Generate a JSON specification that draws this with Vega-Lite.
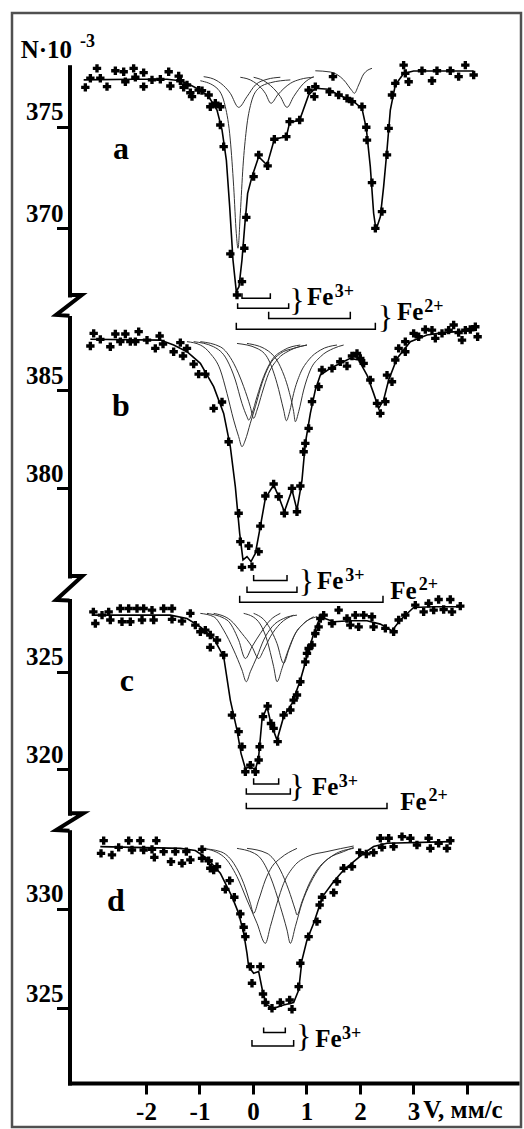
{
"$schema":"https://vega.github.io/schema/vega-lite/v6.json",
"width":509,"height":1114,
"autosize":{"type":"none"},
"padding":{"left":12,"top":13,"right":3,"bottom":2},
"background":"white",
"config":{"view":{"stroke":"#505050","strokeWidth":2.5},"axis":{"grid":false}},
"datasets":{
"pa":[{"V":-3.134,"N":376.93},{"V":-3.04,"N":377.38},{"V":-2.916,"N":377.87},{"V":-2.854,"N":377.38},{"V":-2.729,"N":376.97},{"V":-2.573,"N":377.75},{"V":-2.417,"N":377.7},{"V":-2.386,"N":377.21},{"V":-2.231,"N":377.87},{"V":-2.199,"N":377.43},{"V":-2.044,"N":377.66},{"V":-2.044,"N":376.97},{"V":-1.888,"N":377.3},{"V":-1.732,"N":377.33},{"V":-1.576,"N":377.7},{"V":-1.545,"N":377.0},{"V":-1.389,"N":377.49},{"V":-1.358,"N":377.26},{"V":-1.296,"N":376.93},{"V":-1.234,"N":377.05},{"V":-1.171,"N":376.67},{"V":-1.14,"N":376.48},{"V":-1.016,"N":376.8},{"V":-0.953,"N":376.77},{"V":-0.829,"N":376.56},{"V":-0.798,"N":375.98},{"V":-0.704,"N":376.15},{"V":-0.611,"N":375.98},{"V":-0.611,"N":375.08},{"V":-0.548,"N":374.02},{"V":-0.424,"N":368.74},{"V":-0.299,"N":366.72},{"V":-0.206,"N":367.38},{"V":-0.162,"N":369.02},{"V":-0.125,"N":370.54},{"V":0.012,"N":372.54},{"V":0.106,"N":373.61},{"V":0.274,"N":373.07},{"V":0.399,"N":374.38},{"V":0.623,"N":374.51},{"V":0.685,"N":375.25},{"V":0.872,"N":375.33},{"V":1.04,"N":376.8},{"V":1.146,"N":376.48},{"V":1.165,"N":376.97},{"V":1.433,"N":376.72},{"V":1.495,"N":377.46},{"V":1.601,"N":376.56},{"V":1.757,"N":376.39},{"V":1.85,"N":376.23},{"V":2.037,"N":375.98},{"V":2.118,"N":374.97},{"V":2.131,"N":374.34},{"V":2.224,"N":372.25},{"V":2.287,"N":370.0},{"V":2.411,"N":370.82},{"V":2.505,"N":373.61},{"V":2.536,"N":374.92},{"V":2.598,"N":376.56},{"V":2.66,"N":377.13},{"V":2.816,"N":378.03},{"V":2.847,"N":377.62},{"V":2.91,"N":377.21},{"V":3.159,"N":377.75},{"V":3.346,"N":377.26},{"V":3.439,"N":377.75},{"V":3.688,"N":377.75},{"V":3.844,"N":377.46},{"V":3.969,"N":378.03},{"V":4.125,"N":377.54}],
"fa":[{"V":-3.165,"N":377.3},{"V":-2.231,"N":377.33},{"V":-1.607,"N":377.33},{"V":-1.358,"N":377.26},{"V":-1.171,"N":377.05},{"V":-0.984,"N":376.8},{"V":-0.829,"N":376.48},{"V":-0.673,"N":375.82},{"V":-0.579,"N":374.84},{"V":-0.498,"N":373.36},{"V":-0.436,"N":371.07},{"V":-0.374,"N":368.44},{"V":-0.312,"N":366.89},{"V":-0.262,"N":367.13},{"V":-0.206,"N":368.44},{"V":-0.156,"N":370.08},{"V":-0.1,"N":371.72},{"V":-0.019,"N":372.54},{"V":0.106,"N":373.52},{"V":0.262,"N":373.11},{"V":0.399,"N":374.38},{"V":0.623,"N":374.51},{"V":0.685,"N":375.2},{"V":0.872,"N":375.33},{"V":1.04,"N":376.56},{"V":1.165,"N":376.89},{"V":1.414,"N":376.84},{"V":1.601,"N":376.56},{"V":1.757,"N":376.39},{"V":1.882,"N":376.23},{"V":2.037,"N":375.9},{"V":2.118,"N":374.92},{"V":2.193,"N":373.03},{"V":2.255,"N":370.74},{"V":2.299,"N":369.92},{"V":2.38,"N":370.57},{"V":2.442,"N":372.05},{"V":2.505,"N":373.85},{"V":2.567,"N":375.82},{"V":2.66,"N":377.05},{"V":2.816,"N":377.62},{"V":3.003,"N":377.74},{"V":4.125,"N":377.74}],
"ca":[{"c":1,"V":-0.984,"N":377.26},{"c":1,"V":-0.673,"N":376.89},{"c":1,"V":-0.517,"N":375.98},{"c":1,"V":-0.424,"N":374.34},{"c":1,"V":-0.361,"N":372.05},{"c":1,"V":-0.312,"N":369.75},{"c":1,"V":-0.28,"N":369.02},{"c":1,"V":-0.237,"N":370.74},{"c":1,"V":-0.187,"N":373.03},{"c":1,"V":-0.125,"N":374.84},{"c":1,"V":-0.037,"N":376.15},{"c":1,"V":0.106,"N":376.89},{"c":1,"V":0.324,"N":377.16},{"c":1,"V":0.698,"N":377.3},
{"c":2,"V":-0.922,"N":377.46},{"c":2,"V":-0.673,"N":377.26},{"c":2,"V":-0.424,"N":376.64},{"c":2,"V":-0.268,"N":375.95},{"c":2,"V":-0.112,"N":376.48},{"c":2,"V":0.044,"N":377.05},{"c":2,"V":0.262,"N":377.33},{"c":2,"V":0.511,"N":377.43},
{"c":3,"V":-0.237,"N":377.43},{"c":3,"V":0.012,"N":377.21},{"c":3,"V":0.231,"N":376.64},{"c":3,"V":0.336,"N":376.15},{"c":3,"V":0.461,"N":376.56},{"c":3,"V":0.698,"N":377.13},{"c":3,"V":0.885,"N":377.33},{"c":3,"V":1.134,"N":377.43},
{"c":4,"V":0.012,"N":377.43},{"c":4,"V":0.262,"N":377.16},{"c":4,"V":0.511,"N":376.48},{"c":4,"V":0.636,"N":375.95},{"c":4,"V":0.76,"N":376.48},{"c":4,"V":0.947,"N":377.13},{"c":4,"V":1.134,"N":377.46},
{"c":5,"V":1.165,"N":377.75},{"c":5,"V":1.445,"N":377.69},{"c":5,"V":1.695,"N":377.3},{"c":5,"V":1.85,"N":376.77},{"c":5,"V":1.894,"N":376.64},{"c":5,"V":1.975,"N":377.05},{"c":5,"V":2.069,"N":377.59},{"c":5,"V":2.224,"N":377.87}],
"ka":[{"b":1,"i":0,"V":-0.206,"N":366.8},{"b":1,"i":1,"V":-0.206,"N":366.56},{"b":1,"i":2,"V":0.324,"N":366.56},{"b":1,"i":3,"V":0.324,"N":366.8},
{"b":2,"i":0,"V":-0.287,"N":366.31},{"b":2,"i":1,"V":-0.287,"N":366.07},{"b":2,"i":2,"V":0.667,"N":366.07},{"b":2,"i":3,"V":0.667,"N":366.31},
{"b":3,"i":0,"V":0.293,"N":365.9},{"b":3,"i":1,"V":0.293,"N":365.57},{"b":3,"i":2,"V":1.819,"N":365.57},{"b":3,"i":3,"V":1.819,"N":365.9},
{"b":4,"i":0,"V":-0.312,"N":365.36},{"b":4,"i":1,"V":-0.312,"N":365.03},{"b":4,"i":2,"V":2.287,"N":365.03},{"b":4,"i":3,"V":2.287,"N":365.36}],
"za":[{"i":0,"V":-3.43,"N":366.72},{"i":1,"V":-3.2,"N":366.72},{"i":2,"V":-3.68,"N":365.74},{"i":3,"V":-3.43,"N":365.7}],
"ta":[{"k":"L","t":"a","V":-2.617,"N":373.39},{"k":"B","t":"}","V":0.822,"N":366.44},{"k":"F","t":"Fe","V":1.009,"N":366.23},{"k":"S","t":"3+","V":1.526,"N":366.64},{"k":"B","t":"}","V":2.474,"N":365.57},{"k":"F","t":"Fe","V":2.692,"N":365.49},{"k":"S","t":"2+","V":3.202,"N":365.9},{"k":"F","t":"N·10","V":-4.342,"N":378.36},{"k":"S","t":"-3","V":-3.234,"N":378.94}],
"pb":[{"V":-2.978,"N":387.88},{"V":-3.04,"N":387.24},{"V":-2.854,"N":387.58},{"V":-2.667,"N":387.2},{"V":-2.573,"N":387.85},{"V":-2.48,"N":387.46},{"V":-2.386,"N":387.85},{"V":-2.293,"N":387.46},{"V":-2.199,"N":387.46},{"V":-2.137,"N":387.97},{"V":-1.981,"N":387.54},{"V":-1.826,"N":387.12},{"V":-1.745,"N":387.75},{"V":-1.682,"N":387.34},{"V":-1.483,"N":386.95},{"V":-1.358,"N":387.41},{"V":-1.308,"N":386.73},{"V":-1.234,"N":387.12},{"V":-1.109,"N":386.32},{"V":-1.016,"N":385.81},{"V":-0.891,"N":385.81},{"V":-0.735,"N":384.07},{"V":-0.579,"N":384.39},{"V":-0.455,"N":382.37},{"V":-0.268,"N":378.73},{"V":-0.237,"N":377.29},{"V":-0.206,"N":375.98},{"V":-0.081,"N":377.07},{"V":-0.019,"N":376.02},{"V":0.106,"N":376.78},{"V":0.137,"N":378.08},{"V":0.231,"N":379.61},{"V":0.386,"N":380.22},{"V":0.48,"N":379.58},{"V":0.586,"N":378.73},{"V":0.729,"N":380.0},{"V":0.822,"N":378.81},{"V":0.885,"N":380.12},{"V":0.947,"N":381.86},{"V":0.978,"N":382.29},{"V":1.04,"N":383.05},{"V":1.103,"N":384.41},{"V":1.227,"N":385.17},{"V":1.29,"N":386.02},{"V":1.477,"N":386.1},{"V":1.632,"N":386.44},{"V":1.757,"N":386.22},{"V":1.85,"N":386.73},{"V":1.944,"N":386.86},{"V":2.006,"N":386.61},{"V":2.069,"N":386.36},{"V":2.193,"N":385.51},{"V":2.318,"N":384.32},{"V":2.38,"N":383.81},{"V":2.474,"N":384.41},{"V":2.505,"N":385.76},{"V":2.598,"N":385.42},{"V":2.66,"N":386.53},{"V":2.723,"N":387.12},{"V":2.847,"N":386.95},{"V":2.847,"N":387.46},{"V":3.003,"N":387.88},{"V":3.097,"N":387.71},{"V":3.221,"N":388.08},{"V":3.346,"N":388.05},{"V":3.408,"N":387.63},{"V":3.533,"N":387.88},{"V":3.657,"N":388.05},{"V":3.751,"N":388.31},{"V":3.844,"N":387.92},{"V":3.907,"N":387.54},{"V":3.969,"N":388.05},{"V":4.062,"N":388.08},{"V":4.156,"N":388.22},{"V":4.199,"N":387.71}],
"fb":[{"V":-3.04,"N":387.58},{"V":-1.732,"N":387.54},{"V":-1.483,"N":387.29},{"V":-1.234,"N":386.95},{"V":-0.984,"N":386.36},{"V":-0.735,"N":385.17},{"V":-0.548,"N":383.81},{"V":-0.424,"N":382.12},{"V":-0.33,"N":380.08},{"V":-0.249,"N":377.71},{"V":-0.187,"N":376.36},{"V":-0.112,"N":376.53},{"V":-0.037,"N":376.27},{"V":0.044,"N":376.69},{"V":0.137,"N":378.05},{"V":0.231,"N":379.49},{"V":0.386,"N":380.17},{"V":0.48,"N":379.58},{"V":0.586,"N":378.81},{"V":0.729,"N":379.92},{"V":0.822,"N":378.9},{"V":0.916,"N":380.42},{"V":0.978,"N":382.29},{"V":1.072,"N":383.81},{"V":1.165,"N":385.0},{"V":1.259,"N":385.76},{"V":1.445,"N":386.1},{"V":1.632,"N":386.36},{"V":1.819,"N":386.61},{"V":1.975,"N":386.53},{"V":2.131,"N":385.76},{"V":2.255,"N":384.83},{"V":2.349,"N":384.07},{"V":2.442,"N":384.49},{"V":2.536,"N":385.51},{"V":2.692,"N":386.61},{"V":2.941,"N":387.46},{"V":3.252,"N":387.8},{"V":3.564,"N":387.92},{"V":4.187,"N":388.05}],
"cb":[{"c":1,"V":-1.234,"N":387.46},{"c":1,"V":-0.984,"N":387.29},{"c":1,"V":-0.798,"N":386.86},{"c":1,"V":-0.611,"N":386.02},{"c":1,"V":-0.486,"N":384.83},{"c":1,"V":-0.361,"N":383.47},{"c":1,"V":-0.268,"N":382.63},{"c":1,"V":-0.206,"N":382.12},{"c":1,"V":-0.143,"N":382.46},{"c":1,"V":-0.05,"N":383.31},{"c":1,"V":0.044,"N":384.15},{"c":1,"V":0.168,"N":385.34},{"c":1,"V":0.293,"N":386.19},{"c":1,"V":0.511,"N":386.86},{"c":1,"V":0.76,"N":387.12},{"c":1,"V":1.009,"N":387.29},
{"c":2,"V":-1.109,"N":387.46},{"c":2,"V":-0.735,"N":387.2},{"c":2,"V":-0.486,"N":386.53},{"c":2,"V":-0.33,"N":385.51},{"c":2,"V":-0.206,"N":384.32},{"c":2,"V":-0.112,"N":383.64},{"c":2,"V":-0.081,"N":383.47},{"c":2,"V":-0.019,"N":383.81},{"c":2,"V":0.075,"N":384.66},{"c":2,"V":0.199,"N":385.68},{"c":2,"V":0.355,"N":386.53},{"c":2,"V":0.573,"N":387.03},{"c":2,"V":0.885,"N":387.29},
{"c":3,"V":-0.984,"N":387.46},{"c":3,"V":-0.611,"N":387.2},{"c":3,"V":-0.361,"N":386.36},{"c":3,"V":-0.174,"N":385.17},{"c":3,"V":-0.05,"N":384.15},{"c":3,"V":0.012,"N":383.56},{"c":3,"V":0.075,"N":383.98},{"c":3,"V":0.168,"N":384.83},{"c":3,"V":0.293,"N":385.85},{"c":3,"V":0.449,"N":386.53},{"c":3,"V":0.698,"N":387.03},{"c":3,"V":1.009,"N":387.29},
{"c":4,"V":-0.299,"N":387.37},{"c":4,"V":0.075,"N":387.12},{"c":4,"V":0.293,"N":386.53},{"c":4,"V":0.449,"N":385.34},{"c":4,"V":0.573,"N":383.98},{"c":4,"V":0.623,"N":383.44},{"c":4,"V":0.685,"N":383.9},{"c":4,"V":0.76,"N":384.83},{"c":4,"V":0.885,"N":385.85},{"c":4,"V":1.04,"N":386.53},{"c":4,"V":1.259,"N":387.03},{"c":4,"V":1.57,"N":387.29},
{"c":5,"V":-0.112,"N":387.37},{"c":5,"V":0.262,"N":387.03},{"c":5,"V":0.511,"N":386.19},{"c":5,"V":0.667,"N":385.0},{"c":5,"V":0.76,"N":383.9},{"c":5,"V":0.791,"N":383.39},{"c":5,"V":0.854,"N":383.9},{"c":5,"V":0.947,"N":385.0},{"c":5,"V":1.072,"N":386.02},{"c":5,"V":1.259,"N":386.69},{"c":5,"V":1.508,"N":387.12},{"c":5,"V":1.695,"N":387.29}],
"kb":[{"b":1,"i":0,"V":0.012,"N":375.59},{"b":1,"i":1,"V":0.012,"N":375.31},{"b":1,"i":2,"V":0.636,"N":375.31},{"b":1,"i":3,"V":0.636,"N":375.59},
{"b":2,"i":0,"V":-0.112,"N":375.0},{"b":2,"i":1,"V":-0.112,"N":374.71},{"b":2,"i":2,"V":0.822,"N":374.71},{"b":2,"i":3,"V":0.822,"N":375.0},
{"b":3,"i":0,"V":-0.249,"N":374.53},{"b":3,"i":1,"V":-0.249,"N":374.2},{"b":3,"i":2,"V":2.43,"N":374.2},{"b":3,"i":3,"V":2.43,"N":374.53}],
"zb":[{"i":0,"V":-3.43,"N":375.54},{"i":1,"V":-3.19,"N":375.54},{"i":2,"V":-3.68,"N":374.32},{"i":3,"V":-3.43,"N":374.3}],
"tb":[{"k":"L","t":"b","V":-2.636,"N":383.68},{"k":"B","t":"}","V":0.997,"N":375.22},{"k":"F","t":"Fe","V":1.196,"N":374.86},{"k":"S","t":"3+","V":1.726,"N":375.31},{"k":"F","t":"Fe","V":2.567,"N":374.36},{"k":"S","t":"2+","V":3.097,"N":374.83}],
"pc":[{"V":-2.984,"N":328.07},{"V":-2.947,"N":327.47},{"V":-2.822,"N":327.9},{"V":-2.698,"N":328.07},{"V":-2.667,"N":327.65},{"V":-2.48,"N":328.24},{"V":-2.449,"N":327.56},{"V":-2.324,"N":328.24},{"V":-2.293,"N":327.56},{"V":-2.168,"N":328.24},{"V":-2.075,"N":327.65},{"V":-2.044,"N":328.24},{"V":-1.888,"N":328.16},{"V":-1.857,"N":327.65},{"V":-1.67,"N":328.24},{"V":-1.514,"N":328.24},{"V":-1.514,"N":327.68},{"V":-1.327,"N":327.59},{"V":-1.171,"N":327.99},{"V":-1.078,"N":327.39},{"V":-0.984,"N":327.05},{"V":-0.891,"N":327.13},{"V":-0.798,"N":326.88},{"V":-0.673,"N":326.62},{"V":-0.798,"N":326.25},{"V":-0.548,"N":325.85},{"V":-0.393,"N":322.78},{"V":-0.268,"N":321.93},{"V":-0.206,"N":321.16},{"V":-0.143,"N":319.88},{"V":-0.05,"N":320.22},{"V":0.044,"N":319.88},{"V":0.106,"N":320.48},{"V":0.125,"N":321.16},{"V":0.187,"N":322.7},{"V":0.274,"N":323.24},{"V":0.336,"N":322.35},{"V":0.386,"N":322.1},{"V":0.461,"N":321.42},{"V":0.573,"N":322.78},{"V":0.698,"N":323.04},{"V":0.76,"N":323.55},{"V":0.822,"N":323.81},{"V":0.885,"N":324.49},{"V":0.978,"N":325.51},{"V":1.009,"N":325.94},{"V":1.04,"N":326.19},{"V":1.103,"N":326.37},{"V":1.165,"N":326.96},{"V":1.227,"N":327.3},{"V":1.259,"N":327.73},{"V":1.321,"N":327.9},{"V":1.477,"N":327.47},{"V":1.601,"N":328.16},{"V":1.757,"N":327.73},{"V":1.819,"N":327.39},{"V":1.913,"N":327.9},{"V":1.975,"N":327.3},{"V":2.069,"N":327.9},{"V":2.224,"N":327.82},{"V":2.255,"N":327.3},{"V":2.474,"N":327.22},{"V":2.629,"N":327.05},{"V":2.723,"N":327.65},{"V":2.847,"N":327.9},{"V":3.034,"N":328.41},{"V":3.19,"N":328.07},{"V":3.283,"N":328.5},{"V":3.377,"N":328.16},{"V":3.47,"N":328.7},{"V":3.564,"N":328.19},{"V":3.688,"N":328.7},{"V":3.72,"N":328.07},{"V":3.875,"N":328.36}],
"fc":[{"V":-3.009,"N":327.9},{"V":-1.545,"N":327.9},{"V":-1.234,"N":327.73},{"V":-0.984,"N":327.3},{"V":-0.735,"N":326.71},{"V":-0.548,"N":325.77},{"V":-0.424,"N":323.55},{"V":-0.299,"N":322.01},{"V":-0.224,"N":320.82},{"V":-0.143,"N":320.05},{"V":-0.05,"N":320.14},{"V":0.044,"N":319.97},{"V":0.106,"N":320.65},{"V":0.168,"N":322.53},{"V":0.262,"N":323.21},{"V":0.336,"N":322.35},{"V":0.449,"N":321.5},{"V":0.573,"N":322.7},{"V":0.729,"N":323.38},{"V":0.885,"N":324.57},{"V":1.009,"N":325.77},{"V":1.134,"N":326.96},{"V":1.259,"N":327.82},{"V":1.508,"N":327.56},{"V":1.819,"N":327.61},{"V":2.131,"N":327.61},{"V":2.38,"N":327.44},{"V":2.598,"N":327.1},{"V":2.754,"N":327.65},{"V":3.003,"N":328.29},{"V":3.377,"N":328.33},{"V":3.875,"N":328.33}],
"cc":[{"c":1,"V":-0.984,"N":327.99},{"c":1,"V":-0.735,"N":327.82},{"c":1,"V":-0.548,"N":327.13},{"c":1,"V":-0.361,"N":326.11},{"c":1,"V":-0.206,"N":325.09},{"c":1,"V":-0.125,"N":324.49},{"c":1,"V":-0.05,"N":325.0},{"c":1,"V":0.075,"N":325.77},{"c":1,"V":0.199,"N":326.62},{"c":1,"V":0.355,"N":327.3},{"c":1,"V":0.573,"N":327.73},{"c":1,"V":0.822,"N":327.9},
{"c":2,"V":-0.174,"N":327.99},{"c":2,"V":0.075,"N":327.65},{"c":2,"V":0.262,"N":326.62},{"c":2,"V":0.386,"N":325.26},{"c":2,"V":0.449,"N":324.49},{"c":2,"V":0.542,"N":325.17},{"c":2,"V":0.636,"N":325.94},{"c":2,"V":0.76,"N":326.79},{"c":2,"V":0.947,"N":327.47},{"c":2,"V":1.196,"N":327.82},
{"c":3,"V":-0.735,"N":327.99},{"c":3,"V":-0.424,"N":327.65},{"c":3,"V":-0.206,"N":326.96},{"c":3,"V":-0.019,"N":326.28},{"c":3,"V":0.106,"N":325.68},{"c":3,"V":0.199,"N":326.11},{"c":3,"V":0.324,"N":326.79},{"c":3,"V":0.511,"N":327.47},{"c":3,"V":0.76,"N":327.9},
{"c":4,"V":-0.86,"N":327.99},{"c":4,"V":-0.486,"N":327.65},{"c":4,"V":-0.268,"N":326.62},{"c":4,"V":-0.143,"N":325.68},{"c":4,"V":-0.019,"N":326.28},{"c":4,"V":0.137,"N":326.96},{"c":4,"V":0.324,"N":327.65},{"c":4,"V":0.511,"N":327.99},
{"c":5,"V":0.012,"N":327.99},{"c":5,"V":0.262,"N":327.47},{"c":5,"V":0.449,"N":326.45},{"c":5,"V":0.573,"N":325.43},{"c":5,"V":0.667,"N":326.11},{"c":5,"V":0.791,"N":326.96},{"c":5,"V":0.947,"N":327.47},{"c":5,"V":1.134,"N":327.82}],
"kc":[{"b":1,"i":0,"V":0.012,"N":319.54},{"b":1,"i":1,"V":0.012,"N":319.25},{"b":1,"i":2,"V":0.48,"N":319.25},{"b":1,"i":3,"V":0.48,"N":319.54},
{"b":2,"i":0,"V":-0.125,"N":319.03},{"b":2,"i":1,"V":-0.125,"N":318.74},{"b":2,"i":2,"V":0.698,"N":318.74},{"b":2,"i":3,"V":0.698,"N":319.03},
{"b":3,"i":0,"V":-0.125,"N":318.29},{"b":3,"i":1,"V":-0.125,"N":318.0},{"b":3,"i":2,"V":2.505,"N":318.0},{"b":3,"i":3,"V":2.505,"N":318.29}],
"zc":[{"i":0,"V":-3.43,"N":317.75},{"i":1,"V":-3.17,"N":317.75},{"i":2,"V":-3.68,"N":316.89},{"i":3,"V":-3.43,"N":316.85}],
"tc":[{"k":"L","t":"c","V":-2.492,"N":324.01},{"k":"B","t":"}","V":0.822,"N":319.11},{"k":"F","t":"Fe","V":1.103,"N":318.69},{"k":"S","t":"3+","V":1.601,"N":319.11},{"k":"F","t":"Fe","V":2.754,"N":317.92},{"k":"S","t":"2+","V":3.283,"N":318.4}],
"pd":[{"V":-2.791,"N":333.44},{"V":-2.841,"N":332.8},{"V":-2.636,"N":332.72},{"V":-2.511,"N":333.1},{"V":-2.324,"N":333.44},{"V":-2.262,"N":332.97},{"V":-2.106,"N":333.44},{"V":-2.044,"N":332.97},{"V":-1.888,"N":333.0},{"V":-1.807,"N":333.44},{"V":-1.844,"N":332.6},{"V":-1.67,"N":332.89},{"V":-1.533,"N":332.38},{"V":-1.452,"N":332.89},{"V":-1.327,"N":332.3},{"V":-1.246,"N":332.89},{"V":-1.171,"N":332.47},{"V":-0.953,"N":333.0},{"V":-0.953,"N":332.55},{"V":-0.829,"N":332.43},{"V":-0.798,"N":332.05},{"V":-0.735,"N":331.96},{"V":-0.673,"N":332.13},{"V":-0.436,"N":331.43},{"V":-0.517,"N":330.99},{"V":-0.349,"N":330.59},{"V":-0.237,"N":329.75},{"V":-0.174,"N":329.08},{"V":-0.143,"N":328.61},{"V":-0.05,"N":327.1},{"V":0.137,"N":327.1},{"V":-0.019,"N":326.26},{"V":0.187,"N":325.72},{"V":0.231,"N":325.29},{"V":0.355,"N":325.0},{"V":0.511,"N":325.29},{"V":0.685,"N":325.42},{"V":0.729,"N":324.95},{"V":0.854,"N":326.09},{"V":0.885,"N":327.27},{"V":1.04,"N":328.61},{"V":1.196,"N":329.36},{"V":1.246,"N":330.2},{"V":1.29,"N":330.59},{"V":1.508,"N":330.82},{"V":1.57,"N":331.38},{"V":1.695,"N":332.05},{"V":1.85,"N":332.13},{"V":1.994,"N":332.84},{"V":2.118,"N":332.77},{"V":2.255,"N":332.84},{"V":2.38,"N":333.56},{"V":2.411,"N":333.1},{"V":2.536,"N":333.56},{"V":2.629,"N":333.14},{"V":2.785,"N":333.64},{"V":2.941,"N":333.56},{"V":3.065,"N":333.22},{"V":3.283,"N":333.56},{"V":3.315,"N":333.05},{"V":3.47,"N":333.31},{"V":3.626,"N":333.05},{"V":3.688,"N":333.44}],
"fd":[{"V":-2.854,"N":333.14},{"V":-1.358,"N":333.05},{"V":-1.078,"N":332.94},{"V":-0.86,"N":332.55},{"V":-0.611,"N":331.8},{"V":-0.393,"N":330.62},{"V":-0.268,"N":329.78},{"V":-0.174,"N":328.78},{"V":-0.112,"N":327.77},{"V":-0.081,"N":327.1},{"V":0.012,"N":326.76},{"V":0.106,"N":326.85},{"V":0.187,"N":325.76},{"V":0.262,"N":325.17},{"V":0.386,"N":325.0},{"V":0.573,"N":325.17},{"V":0.76,"N":325.29},{"V":0.854,"N":325.92},{"V":0.916,"N":327.43},{"V":1.009,"N":328.44},{"V":1.134,"N":329.28},{"V":1.227,"N":330.03},{"V":1.321,"N":330.7},{"V":1.508,"N":331.38},{"V":1.695,"N":331.96},{"V":1.882,"N":332.38},{"V":2.069,"N":332.8},{"V":2.255,"N":333.14},{"V":2.505,"N":333.31},{"V":3.688,"N":333.39}],
"cd":[{"c":1,"V":-0.922,"N":333.05},{"c":1,"V":-0.548,"N":332.63},{"c":1,"V":-0.299,"N":331.63},{"c":1,"V":-0.112,"N":330.45},{"c":1,"V":0.075,"N":329.28},{"c":1,"V":0.231,"N":328.27},{"c":1,"V":0.324,"N":329.11},{"c":1,"V":0.449,"N":330.29},{"c":1,"V":0.573,"N":331.29},{"c":1,"V":0.76,"N":332.13},{"c":1,"V":1.009,"N":332.63},{"c":1,"V":1.383,"N":332.89},{"c":1,"V":1.882,"N":333.17},
{"c":2,"V":-0.984,"N":333.05},{"c":2,"V":-0.611,"N":332.89},{"c":2,"V":-0.361,"N":332.3},{"c":2,"V":-0.174,"N":331.29},{"c":2,"V":-0.05,"N":330.29},{"c":2,"V":0.012,"N":329.78},{"c":2,"V":0.106,"N":330.45},{"c":2,"V":0.231,"N":331.46},{"c":2,"V":0.355,"N":332.13},{"c":2,"V":0.511,"N":332.55},{"c":2,"V":0.822,"N":333.05},
{"c":3,"V":-0.299,"N":333.05},{"c":3,"V":0.075,"N":332.72},{"c":3,"V":0.324,"N":331.63},{"c":3,"V":0.511,"N":330.12},{"c":3,"V":0.636,"N":328.94},{"c":3,"V":0.698,"N":328.27},{"c":3,"V":0.791,"N":329.11},{"c":3,"V":0.916,"N":330.29},{"c":3,"V":1.072,"N":331.29},{"c":3,"V":1.259,"N":332.13},{"c":3,"V":1.508,"N":332.72},{"c":3,"V":1.882,"N":333.05},
{"c":4,"V":-0.112,"N":333.05},{"c":4,"V":0.262,"N":332.8},{"c":4,"V":0.511,"N":331.96},{"c":4,"V":0.667,"N":330.96},{"c":4,"V":0.791,"N":329.95},{"c":4,"V":0.822,"N":329.7},{"c":4,"V":0.916,"N":330.37},{"c":4,"V":1.04,"N":331.21},{"c":4,"V":1.196,"N":331.96},{"c":4,"V":1.414,"N":332.55},{"c":4,"V":1.695,"N":332.89},{"c":4,"V":1.882,"N":333.1}],
"kd":[{"b":1,"i":0,"V":0.199,"N":324.04},{"b":1,"i":1,"V":0.199,"N":323.78},{"b":1,"i":2,"V":0.604,"N":323.78},{"b":1,"i":3,"V":0.604,"N":324.04},
{"b":2,"i":0,"V":-0.019,"N":323.41},{"b":2,"i":1,"V":-0.019,"N":323.1},{"b":2,"i":2,"V":0.76,"N":323.1},{"b":2,"i":3,"V":0.76,"N":323.41}],
"td":[{"k":"L","t":"d","V":-2.729,"N":329.9},{"k":"B","t":"}","V":0.947,"N":323.57},{"k":"F","t":"Fe","V":1.165,"N":323.07},{"k":"S","t":"3+","V":1.664,"N":323.44},{"k":"F","t":"V, мм/с","V":3.183,"N":319.47}]
},
"resolve":{"scale":{"y":"independent"},"axis":{"y":"independent"}},
"layer":[
{"encoding":{
 "x":{"field":"V","type":"quantitative","scale":{"domain":[-3.43,4.935],"range":[57.5,505],"nice":false,"zero":false},
  "axis":{"orient":"bottom","offset":-44,"title":null,"values":[-2,-1,0,1,2,3,4],"labelExpr":"datum.value == 4 ? '' : '' + datum.value","domainColor":"black","domainWidth":4,"domainCap":"square","tickColor":"black","tickWidth":3,"tickSize":11,"labelFont":"Liberation Serif","labelFontWeight":"bold","labelFontSize":25,"labelColor":"black","labelPadding":5}},
 "y":{"field":"N","type":"quantitative","scale":{"domain":[366.72,377.95],"range":[282,53.7],"nice":false,"zero":false},
  "axis":{"orient":"left","offset":-57.5,"title":null,"values":[370,375],"domainColor":"black","domainWidth":4,"domainCap":"square","tickColor":"black","tickWidth":3,"tickSize":13,"labelFont":"Liberation Serif","labelFontWeight":"bold","labelFontSize":25,"labelColor":"black","labelBaseline":"alphabetic","labelOffset":-7,"labelPadding":-6.5,"labelAlign":"right"}}},
 "layer":[
  {"data":{"name":"ca"},"mark":{"type":"line","stroke":"#333","strokeWidth":1,"interpolate":"monotone"},"encoding":{"detail":{"field":"c","type":"nominal"}}},
  {"data":{"name":"fa"},"mark":{"type":"line","stroke":"black","strokeWidth":1.6}},
  {"data":{"name":"pa"},"mark":{"type":"point","shape":"cross","filled":true,"size":70,"color":"black","opacity":1}},
  {"data":{"name":"ka"},"mark":{"type":"line","stroke":"black","strokeWidth":1.5},"encoding":{"detail":{"field":"b","type":"nominal"},"order":{"field":"i","type":"quantitative"}}},
  {"data":{"name":"za"},"mark":{"type":"line","stroke":"black","strokeWidth":4},"encoding":{"order":{"field":"i","type":"quantitative"}}},
  {"data":{"name":"ta"},"transform":[{"filter":"datum.k=='L'"}],"mark":{"type":"text","font":"Liberation Serif","fontWeight":"bold","fontSize":32,"align":"left","baseline":"alphabetic","color":"black"},"encoding":{"text":{"field":"t"}}},
  {"data":{"name":"ta"},"transform":[{"filter":"datum.k=='F'"}],"mark":{"type":"text","font":"Liberation Serif","fontWeight":"bold","fontSize":25,"align":"left","baseline":"alphabetic","color":"black"},"encoding":{"text":{"field":"t"}}},
  {"data":{"name":"ta"},"transform":[{"filter":"datum.k=='S'"}],"mark":{"type":"text","font":"Liberation Serif","fontWeight":"bold","fontSize":18,"align":"left","baseline":"alphabetic","color":"black"},"encoding":{"text":{"field":"t"}}},
  {"data":{"name":"ta"},"transform":[{"filter":"datum.k=='B'"}],"mark":{"type":"text","font":"Liberation Serif","fontSize":32,"align":"center","baseline":"middle","color":"black"},"encoding":{"text":{"field":"t"}}}
 ]},
{"encoding":{
 "x":{"field":"V","type":"quantitative","scale":{"domain":[-3.43,4.935],"range":[57.5,505],"nice":false,"zero":false},
  "axis":{"orient":"bottom","offset":-44,"title":null,"values":[-2,-1,0,1,2,3,4],"labelExpr":"datum.value == 4 ? '' : '' + datum.value","domainColor":"black","domainWidth":4,"domainCap":"square","tickColor":"black","tickWidth":3,"tickSize":11,"labelFont":"Liberation Serif","labelFontWeight":"bold","labelFontSize":25,"labelColor":"black","labelPadding":5}},
 "y":{"field":"N","type":"quantitative","scale":{"domain":[375.54,388.69],"range":[563,304.5],"nice":false,"zero":false},
  "axis":{"orient":"left","offset":-57.5,"title":null,"values":[380,385],"domainColor":"black","domainWidth":4,"domainCap":"square","tickColor":"black","tickWidth":3,"tickSize":13,"labelFont":"Liberation Serif","labelFontWeight":"bold","labelFontSize":25,"labelColor":"black","labelBaseline":"alphabetic","labelOffset":-7,"labelPadding":-6.5,"labelAlign":"right"}}},
 "layer":[
  {"data":{"name":"cb"},"mark":{"type":"line","stroke":"#333","strokeWidth":1,"interpolate":"monotone"},"encoding":{"detail":{"field":"c","type":"nominal"}}},
  {"data":{"name":"fb"},"mark":{"type":"line","stroke":"black","strokeWidth":1.6}},
  {"data":{"name":"pb"},"mark":{"type":"point","shape":"cross","filled":true,"size":70,"color":"black","opacity":1}},
  {"data":{"name":"kb"},"mark":{"type":"line","stroke":"black","strokeWidth":1.5},"encoding":{"detail":{"field":"b","type":"nominal"},"order":{"field":"i","type":"quantitative"}}},
  {"data":{"name":"zb"},"mark":{"type":"line","stroke":"black","strokeWidth":4},"encoding":{"order":{"field":"i","type":"quantitative"}}},
  {"data":{"name":"tb"},"transform":[{"filter":"datum.k=='L'"}],"mark":{"type":"text","font":"Liberation Serif","fontWeight":"bold","fontSize":32,"align":"left","baseline":"alphabetic","color":"black"},"encoding":{"text":{"field":"t"}}},
  {"data":{"name":"tb"},"transform":[{"filter":"datum.k=='F'"}],"mark":{"type":"text","font":"Liberation Serif","fontWeight":"bold","fontSize":25,"align":"left","baseline":"alphabetic","color":"black"},"encoding":{"text":{"field":"t"}}},
  {"data":{"name":"tb"},"transform":[{"filter":"datum.k=='S'"}],"mark":{"type":"text","font":"Liberation Serif","fontWeight":"bold","fontSize":18,"align":"left","baseline":"alphabetic","color":"black"},"encoding":{"text":{"field":"t"}}},
  {"data":{"name":"tb"},"transform":[{"filter":"datum.k=='B'"}],"mark":{"type":"text","font":"Liberation Serif","fontSize":32,"align":"center","baseline":"middle","color":"black"},"encoding":{"text":{"field":"t"}}}
 ]},
{"encoding":{
 "x":{"field":"V","type":"quantitative","scale":{"domain":[-3.43,4.935],"range":[57.5,505],"nice":false,"zero":false},
  "axis":{"orient":"bottom","offset":-44,"title":null,"values":[-2,-1,0,1,2,3,4],"labelExpr":"datum.value == 4 ? '' : '' + datum.value","domainColor":"black","domainWidth":4,"domainCap":"square","tickColor":"black","tickWidth":3,"tickSize":11,"labelFont":"Liberation Serif","labelFontWeight":"bold","labelFontSize":25,"labelColor":"black","labelPadding":5}},
 "y":{"field":"N","type":"quantitative","scale":{"domain":[317.75,328.65],"range":[800.3,587.5],"nice":false,"zero":false},
  "axis":{"orient":"left","offset":-57.5,"title":null,"values":[320,325],"domainColor":"black","domainWidth":4,"domainCap":"square","tickColor":"black","tickWidth":3,"tickSize":13,"labelFont":"Liberation Serif","labelFontWeight":"bold","labelFontSize":25,"labelColor":"black","labelBaseline":"alphabetic","labelOffset":-7,"labelPadding":-6.5,"labelAlign":"right"}}},
 "layer":[
  {"data":{"name":"cc"},"mark":{"type":"line","stroke":"#333","strokeWidth":1,"interpolate":"monotone"},"encoding":{"detail":{"field":"c","type":"nominal"}}},
  {"data":{"name":"fc"},"mark":{"type":"line","stroke":"black","strokeWidth":1.6}},
  {"data":{"name":"pc"},"mark":{"type":"point","shape":"cross","filled":true,"size":70,"color":"black","opacity":1}},
  {"data":{"name":"kc"},"mark":{"type":"line","stroke":"black","strokeWidth":1.5},"encoding":{"detail":{"field":"b","type":"nominal"},"order":{"field":"i","type":"quantitative"}}},
  {"data":{"name":"zc"},"mark":{"type":"line","stroke":"black","strokeWidth":4},"encoding":{"order":{"field":"i","type":"quantitative"}}},
  {"data":{"name":"tc"},"transform":[{"filter":"datum.k=='L'"}],"mark":{"type":"text","font":"Liberation Serif","fontWeight":"bold","fontSize":32,"align":"left","baseline":"alphabetic","color":"black"},"encoding":{"text":{"field":"t"}}},
  {"data":{"name":"tc"},"transform":[{"filter":"datum.k=='F'"}],"mark":{"type":"text","font":"Liberation Serif","fontWeight":"bold","fontSize":25,"align":"left","baseline":"alphabetic","color":"black"},"encoding":{"text":{"field":"t"}}},
  {"data":{"name":"tc"},"transform":[{"filter":"datum.k=='S'"}],"mark":{"type":"text","font":"Liberation Serif","fontWeight":"bold","fontSize":18,"align":"left","baseline":"alphabetic","color":"black"},"encoding":{"text":{"field":"t"}}},
  {"data":{"name":"tc"},"transform":[{"filter":"datum.k=='B'"}],"mark":{"type":"text","font":"Liberation Serif","fontSize":32,"align":"center","baseline":"middle","color":"black"},"encoding":{"text":{"field":"t"}}}
 ]},
{"encoding":{
 "x":{"field":"V","type":"quantitative","scale":{"domain":[-3.43,4.935],"range":[57.5,505],"nice":false,"zero":false},
  "axis":{"orient":"bottom","offset":-44,"title":null,"values":[-2,-1,0,1,2,3,4],"labelExpr":"datum.value == 4 ? '' : '' + datum.value","domainColor":"black","domainWidth":4,"domainCap":"square","tickColor":"black","tickWidth":3,"tickSize":11,"labelFont":"Liberation Serif","labelFontWeight":"bold","labelFontSize":25,"labelColor":"black","labelPadding":5}},
 "y":{"field":"N","type":"quantitative","scale":{"domain":[321.24,333.89],"range":[1070,818.7],"nice":false,"zero":false},
  "axis":{"orient":"left","offset":-57.5,"title":null,"values":[325,330],"domainColor":"black","domainWidth":4,"domainCap":"square","tickColor":"black","tickWidth":3,"tickSize":13,"labelFont":"Liberation Serif","labelFontWeight":"bold","labelFontSize":25,"labelColor":"black","labelBaseline":"alphabetic","labelOffset":-7,"labelPadding":-6.5,"labelAlign":"right"}}},
 "layer":[
  {"data":{"name":"cd"},"mark":{"type":"line","stroke":"#333","strokeWidth":1,"interpolate":"monotone"},"encoding":{"detail":{"field":"c","type":"nominal"}}},
  {"data":{"name":"fd"},"mark":{"type":"line","stroke":"black","strokeWidth":1.6}},
  {"data":{"name":"pd"},"mark":{"type":"point","shape":"cross","filled":true,"size":70,"color":"black","opacity":1}},
  {"data":{"name":"kd"},"mark":{"type":"line","stroke":"black","strokeWidth":1.5},"encoding":{"detail":{"field":"b","type":"nominal"},"order":{"field":"i","type":"quantitative"}}},
  {"data":{"name":"td"},"transform":[{"filter":"datum.k=='L'"}],"mark":{"type":"text","font":"Liberation Serif","fontWeight":"bold","fontSize":32,"align":"left","baseline":"alphabetic","color":"black"},"encoding":{"text":{"field":"t"}}},
  {"data":{"name":"td"},"transform":[{"filter":"datum.k=='F'"}],"mark":{"type":"text","font":"Liberation Serif","fontWeight":"bold","fontSize":25,"align":"left","baseline":"alphabetic","color":"black"},"encoding":{"text":{"field":"t"}}},
  {"data":{"name":"td"},"transform":[{"filter":"datum.k=='S'"}],"mark":{"type":"text","font":"Liberation Serif","fontWeight":"bold","fontSize":18,"align":"left","baseline":"alphabetic","color":"black"},"encoding":{"text":{"field":"t"}}},
  {"data":{"name":"td"},"transform":[{"filter":"datum.k=='B'"}],"mark":{"type":"text","font":"Liberation Serif","fontSize":32,"align":"center","baseline":"middle","color":"black"},"encoding":{"text":{"field":"t"}}}
 ]}
]
}
